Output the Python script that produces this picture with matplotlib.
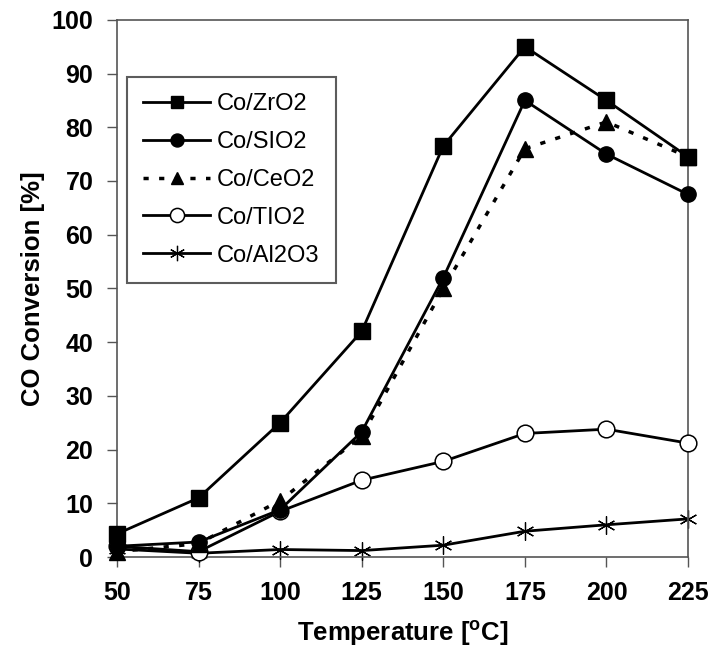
import matplotlib
matplotlib.use("Agg")
import matplotlib.pyplot as plt

temperature = [50, 75, 100, 125, 150, 175, 200, 225]
co_zro2 = [4.3, 11, 25, 42, 76.5, 95, 85, 74.5]
co_sio2 = [2, 2.8, 8.8, 23.3, 52, 85, 75, 67.5]
co_ceo2 = [1, 2.5, 10.5, 22.5, 50, 76, 81, 74.5]
co_tio2 = [2, 1, 8.5, 14.3, 17.8, 23, 23.8, 21.2]
co_al2o3 = [1.5, 0.7, 1.4, 1.2, 2.2, 4.8, 6, 7.1]
series_labels = ["Co/ZrO2", "Co/SIO2", "Co/CeO2", "Co/TIO2", "Co/Al2O3"]
xticks = [50, 75, 100, 125, 150, 175, 200, 225]
yticks = [0, 10, 20, 30, 40, 50, 60, 70, 80, 90, 100]

plt.rcParams['font.family'] = ['Liberation Sans', 'DejaVu Sans']

fig = plt.figure(figsize=(7.13, 6.48), dpi=100)
ax = fig.add_axes([0.164, 0.1404, 0.801, 0.829])

ax.plot(temperature, co_al2o3, color='black', lw=2, marker=(6, 2, 0), ms=13,
        mew=0.9, label=series_labels[4], zorder=2, clip_on=False)
ax.plot(temperature, co_tio2, color='black', lw=2, marker='o', ms=12,
        mfc='white', mew=1.1, label=series_labels[3], zorder=3, clip_on=False)
ax.plot(temperature, co_ceo2, color='black', lw=2.5, ls=(0, (1.5, 3)),
        marker='^', ms=11, label=series_labels[2], zorder=4, clip_on=False)
ax.plot(temperature, co_sio2, color='black', lw=2, marker='o', ms=11,
        label=series_labels[1], zorder=5, clip_on=False)
ax.plot(temperature, co_zro2, color='black', lw=2, marker='s', ms=11,
        label=series_labels[0], zorder=6, clip_on=False)

ax.set_xlim(50, 225)
ax.set_ylim(0, 100)
ax.set_xticks(xticks)
ax.set_yticks(yticks)
ax.tick_params(direction='out', length=7, width=1, labelsize=18, pad=10,
               color='#555555')
for lab in ax.get_xticklabels() + ax.get_yticklabels():
    lab.set_fontweight('bold')
ax.set_xlabel('Temperature [$\\mathregular{^o}$C]', fontsize=18.5, fontweight='bold', labelpad=10)
ax.set_ylabel('CO Conversion [%]', fontsize=18.5, fontweight='bold', labelpad=5)
for s in ax.spines.values():
    s.set_color('#555555')
    s.set_linewidth(1.2)

handles, labels = ax.get_legend_handles_labels()
order = [4, 3, 2, 1, 0]
leg = ax.legend([handles[i] for i in order], [labels[i] for i in order],
                loc='upper left', bbox_to_anchor=(0.0175, 0.894),
                borderaxespad=0,
                fontsize=17, frameon=True, fancybox=False, edgecolor='#333333',
                handlelength=2.8, labelspacing=0.67, borderpad=0.7,
                handletextpad=0.3, markerscale=0.85)
leg.get_frame().set_linewidth(1.5)

fig.savefig('out.png', dpi=100, facecolor='white')
